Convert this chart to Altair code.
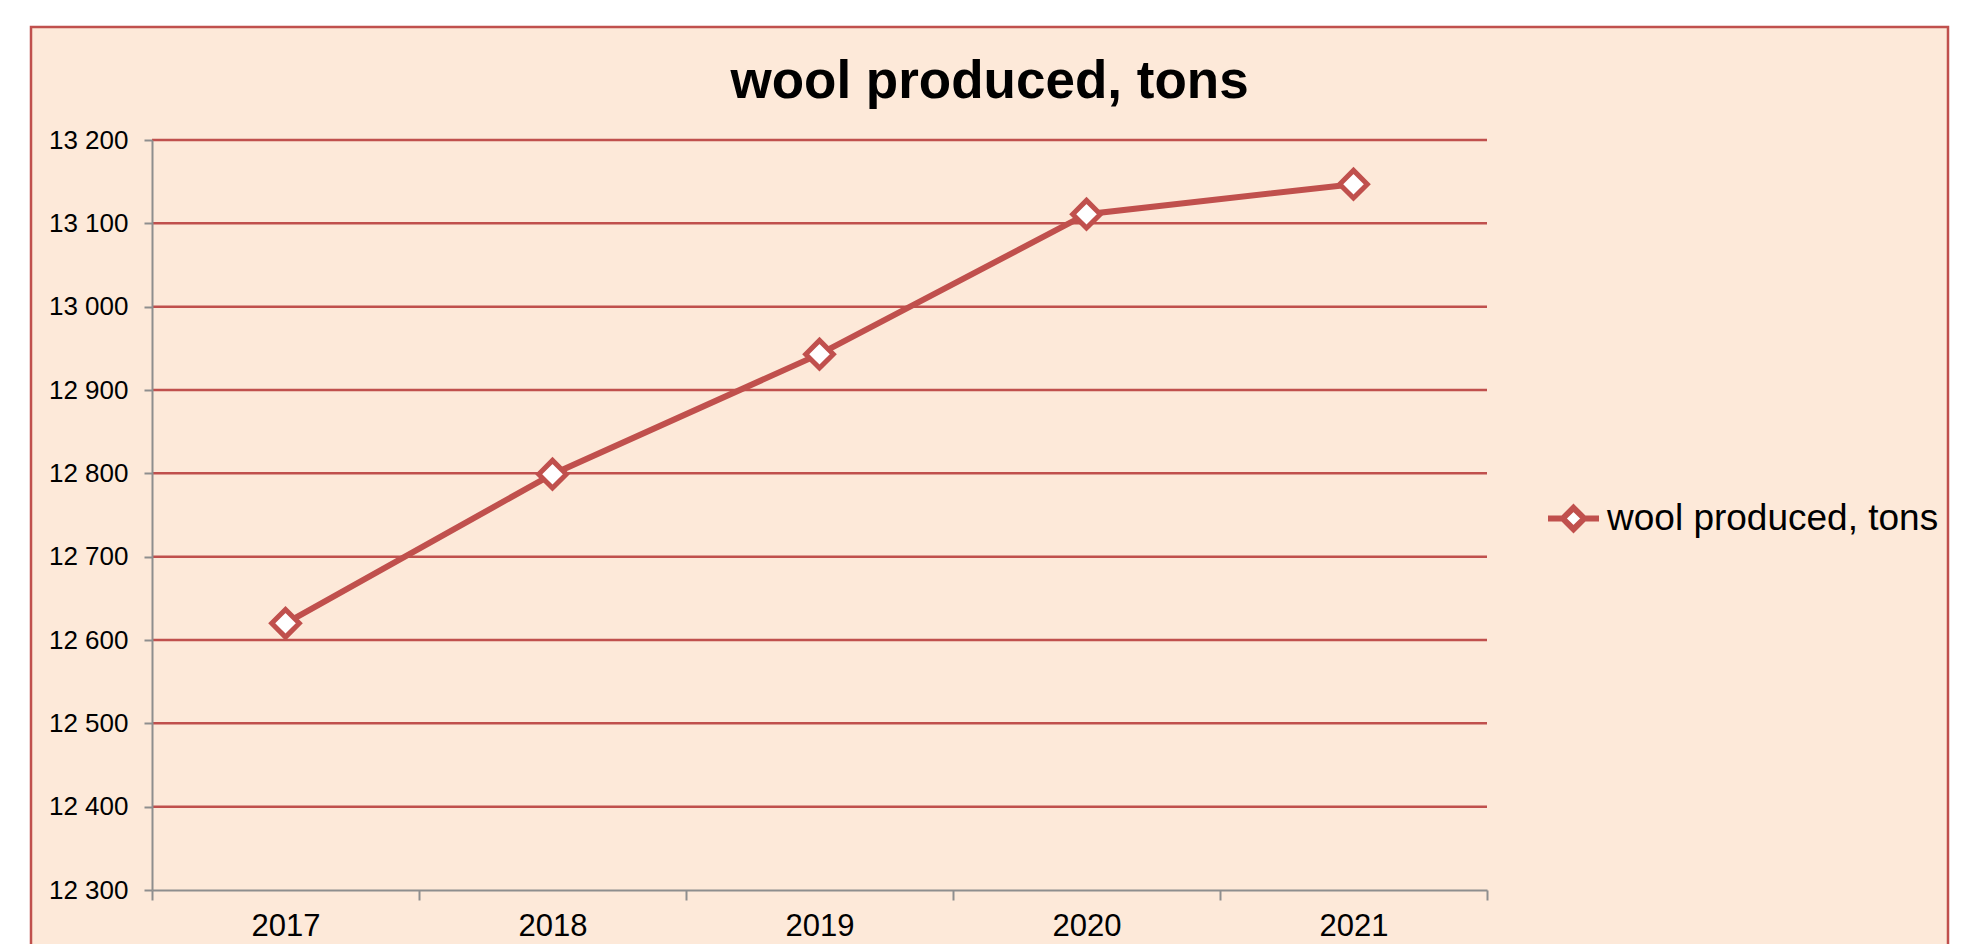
import altair as alt
import pandas as pd

# ---- data ----
years = ["2017", "2018", "2019", "2020", "2021"]
wool_tons = [12620, 12799, 12943, 13111, 13147]
y_ticks = [12300, 12400, 12500, 12600, 12700, 12800, 12900, 13000, 13100, 13200]
series_name = "wool produced, tons"
title_text = "wool produced, tons"

# ---- styling ----
RED = "#C0504D"
PEACH = "#FDE9D9"
GRAY = "#8E8E8E"
FONT = "Liberation Sans"
W, H = 1335, 750

df = pd.DataFrame({"year": years, "value": wool_tons, "series": [series_name] * len(years)})
grid_df = pd.DataFrame({"tick": [t for t in y_ticks if t > y_ticks[0]]})
bg_df = pd.DataFrame({"k": [0]})

xscale = alt.Scale(type="band", domain=years, paddingInner=0, paddingOuter=0)
yscale = alt.Scale(domain=[y_ticks[0], y_ticks[-1]], nice=False, zero=False)

xaxis = alt.Axis(
    title=None, labelFont=FONT, labelFontSize=31, labelColor="#000000", labelAngle=0,
    tickBand="extent", tickSize=10, tickColor=GRAY, tickWidth=2,
    domainColor=GRAY, domainWidth=2, labelPadding=35, labelBaseline="alphabetic",
    grid=False, zindex=1,
)
yaxis = alt.Axis(
    title=None, values=y_ticks, labelExpr="replace(format(datum.value, ','), ',', ' ')",
    labelFont=FONT, labelFontSize=26, labelColor="#000000",
    tickSize=8, tickColor=GRAY, tickWidth=2, domainColor=GRAY, domainWidth=2,
    labelPadding=16, grid=False, zindex=1,
)

LEGEND_PATH = "M-1,0L-0.42,0M0.42,0L1,0M0,-0.42L0.42,0L0,0.42L-0.42,0Z"

background = alt.Chart(bg_df).mark_rect(fill=PEACH, stroke=RED, strokeWidth=2.5).encode(
    x=alt.value(-121), x2=alt.value(1796), y=alt.value(-113), y2=alt.value(840)
)

grid = alt.Chart(grid_df).mark_rule(color=RED, strokeWidth=2.5).encode(
    y=alt.Y("tick:Q", scale=yscale, axis=yaxis),
    x=alt.value(0),
    x2=alt.value(W),
)

line = alt.Chart(df).mark_line(color=RED, strokeWidth=6).encode(
    x=alt.X("year:O", scale=xscale, bandPosition=0.5, axis=xaxis),
    y=alt.Y("value:Q", scale=yscale, axis=yaxis),
)

points = alt.Chart(df).mark_point(
    shape="diamond", size=760, filled=True, fill="white", strokeWidth=5, opacity=1
).encode(
    x=alt.X("year:O", scale=xscale, bandPosition=0.5, axis=xaxis),
    y=alt.Y("value:Q", scale=yscale, axis=yaxis),
    stroke=alt.Stroke(
        "series:N",
        scale=alt.Scale(domain=[series_name], range=[RED]),
        legend=alt.Legend(
            title=None, orient="none", legendX=1393, legendY=350, padding=0,
            symbolType=LEGEND_PATH, symbolSize=2601, symbolStrokeWidth=6,
            symbolFillColor="white", symbolStrokeColor=RED,
            labelFont=FONT, labelFontSize=37, labelColor="#000000",
            labelOffset=5, labelLimit=700,
        ),
    ),
)

chart = alt.layer(background, grid, line, points).properties(
    width=W, height=H,
    autosize=alt.AutoSizeParams(type="none"),
    padding={"left": 144, "top": 132, "right": 466, "bottom": 54},
    background="white",
    title=alt.TitleParams(
        text=title_text, font=FONT, fontSize=53, fontWeight="bold", color="#000000",
        anchor="middle", dx=170, offset=-136, baseline="bottom",
    ),
).configure_view(stroke=None)

chart.save("out.html", embed_options={"renderer": "svg", "actions": False})
